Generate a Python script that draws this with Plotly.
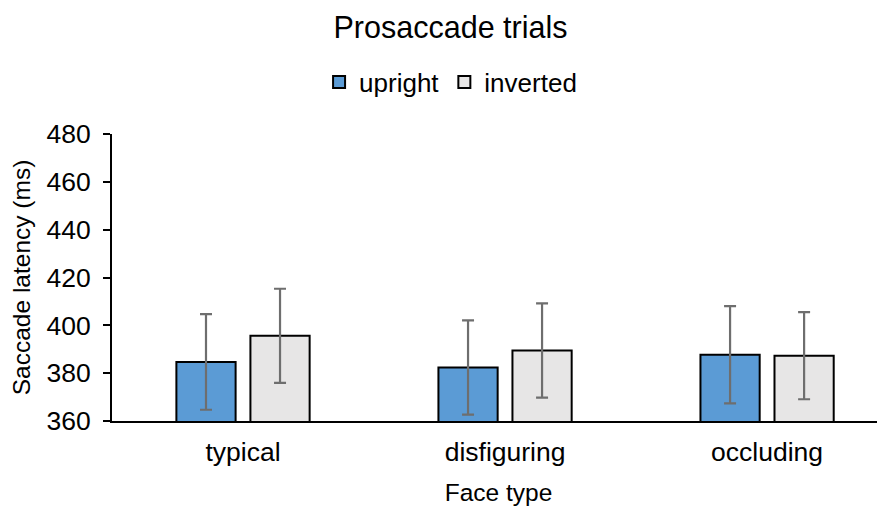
import plotly.graph_objects as go

categories = ["typical", "disfiguring", "occluding"]
upright = [384.7, 382.4, 387.7]
upright_err = [20.0, 19.7, 20.3]
inverted = [395.6, 389.5, 387.3]
inverted_err = [19.7, 19.7, 18.2]
y_ticks = [360, 380, 400, 420, 440, 460, 480]

font_family = "Liberation Sans, Arial, sans-serif"

fig = go.Figure()
fig.add_trace(go.Bar(
    name="upright", x=categories, y=upright,
    marker=dict(color="#5B9BD5", line=dict(color="black", width=2)),
    error_y=dict(type="data", array=upright_err, visible=True,
                 color="#6E6E6E", thickness=2.2, width=6),
))
fig.add_trace(go.Bar(
    name="inverted", x=categories, y=inverted,
    marker=dict(color="#E7E6E6", line=dict(color="black", width=2)),
    error_y=dict(type="data", array=inverted_err, visible=True,
                 color="#6E6E6E", thickness=2.2, width=6),
))

fig.update_layout(
    width=885, height=511,
    margin=dict(l=104, r=8, t=126, b=98),
    paper_bgcolor="white", plot_bgcolor="white",
    font=dict(family=font_family, size=24, color="black"),
    title=dict(text="Prosaccade trials", x=0.5, xanchor="center",
               y=0.963, yanchor="middle", font=dict(size=30.5)),
    barmode="group", bargap=0.435, bargroupgap=0.2,
    showlegend=True,
    legend=dict(orientation="h", x=0.438, xanchor="center", y=1.181, yanchor="middle",
                font=dict(size=26), itemwidth=30, traceorder="normal"),
    xaxis=dict(
        type="category", range=[-0.5, 2.45],
        showline=True, linecolor="black", linewidth=2,
        ticks="", showgrid=False, ticklabelstandoff=6,
        title=dict(text="Face type", standoff=18, font=dict(size=24.5)),
        tickfont=dict(size=26.5),
    ),
    yaxis=dict(
        range=[360, 480], tickvals=y_ticks,
        showline=True, linecolor="black", linewidth=2,
        ticks="outside", ticklen=7, tickwidth=2, tickcolor="black",
        showgrid=False, zeroline=False, ticklabelstandoff=7,
        title=dict(text="Saccade latency (ms)", standoff=9, font=dict(size=24.5)),
        tickfont=dict(size=26.5),
    ),
)

fig.write_html("out.html")
